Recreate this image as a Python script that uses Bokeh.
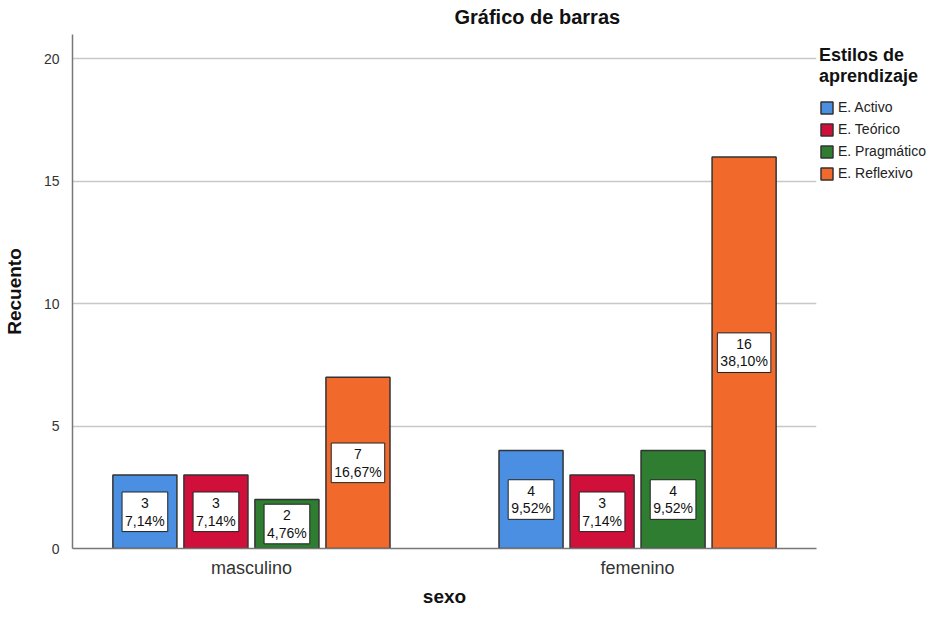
from bokeh.plotting import figure
from bokeh.models import ColumnDataSource, FactorRange, Range1d, FixedTicker, Legend, LegendItem, Title
from bokeh.transform import dodge
from bokeh.core.properties import value
from bokeh.embed import file_html
from bokeh.resources import INLINE

# ---- data ----
sexo = ["masculino", "femenino"]
estilos = ["E. Activo", "E. Teórico", "E. Pragmático", "E. Reflexivo"]
activo = [3, 4]
teorico = [3, 3]
pragmatico = [2, 4]
reflexivo = [7, 16]
y_ticks = [0, 5, 10, 15, 20]
colores = ["#4a8fe2", "#d10f3b", "#2e7d30", "#f26a2b"]

series = [activo, teorico, pragmatico, reflexivo]
total = sum(sum(s) for s in series)

FONT = "Liberation Sans"

p = figure(frame_width=744, frame_height=514,
           x_range=FactorRange(factors=sexo, factor_padding=0.079, range_padding=0),
           y_range=Range1d(0, 21),
           output_backend="svg", toolbar_location=None,
           min_border_left=0, min_border_top=0, min_border_bottom=0, min_border_right=0)

p.title = Title(text="Gráfico de barras", align="left", offset=382,
                text_font=FONT, text_font_size="20px", text_font_style="bold",
                text_color="#111111", standoff=6)
# small empty band that adds the space between the title and the plot area
p.add_layout(Title(text=" ", text_font=FONT, text_font_size="2px", standoff=0), "above")

offsets = [-0.2977, -0.0992, 0.0992, 0.2977]
bar_w = 0.179
items = []
for name, vals, col, off in zip(estilos, series, colores, offsets):
    labs = [f"{v}\n{v / total * 100:.2f}%".replace(".", ",") for v in vals]
    src = ColumnDataSource(dict(sexo=sexo, count=vals, mid=[v / 2 for v in vals], lab=labs))
    r = p.vbar(x=dodge("sexo", off, range=p.x_range), top="count", width=bar_w, source=src,
               fill_color=col, line_color="#333333", line_width=1.5)
    p.text(x=dodge("sexo", off, range=p.x_range), y="mid", text="lab", source=src,
           text_align="center", text_baseline="middle", text_font=value(FONT),
           text_font_size="14px", text_color="#111111", text_line_height=1.1,
           background_fill_color="white", border_line_color="#222222",
           border_line_width=1, padding=3)
    items.append(LegendItem(label=name, renderers=[r]))

legend = Legend(items=items, title="Estilos de\naprendizaje", location=(3, 367),
                margin=5, padding=0, border_line_color=None, background_fill_alpha=0,
                glyph_width=15, glyph_height=15, label_height=15, spacing=6,
                label_standoff=4, label_text_font=FONT, label_text_font_size="14px",
                label_text_color="#222222",
                title_text_font=FONT, title_text_font_size="18px", title_text_font_style="bold",
                title_text_color="#111111", title_standoff=12)
p.add_layout(legend, "right")

# axes
p.yaxis.ticker = FixedTicker(ticks=y_ticks)
p.yaxis.axis_label = "Recuento"
p.yaxis.axis_label_standoff = 16
p.yaxis.major_label_standoff = 7
p.yaxis.major_label_text_font_size = "14px"
p.xaxis.axis_label = "sexo"
p.xaxis.axis_label_standoff = 5
p.xaxis.major_label_standoff = 3
p.xaxis.major_label_text_font_size = "18px"
for ax in (p.xaxis, p.yaxis):
    ax.major_tick_line_color = None
    ax.minor_tick_line_color = None
    ax.axis_line_color = "#777777"
    ax.axis_line_width = 1.5
    ax.major_label_text_font = FONT
    ax.major_label_text_color = "#333333"
    ax.axis_label_text_font = FONT
    ax.axis_label_text_font_size = "19px"
    ax.axis_label_text_font_style = "bold"
    ax.axis_label_text_color = "#111111"

p.xgrid.grid_line_color = None
p.ygrid.grid_line_color = "#c8c8c8"
p.ygrid.grid_line_width = 1.5
p.outline_line_color = None

open("out.html", "w").write(file_html(p, INLINE))
